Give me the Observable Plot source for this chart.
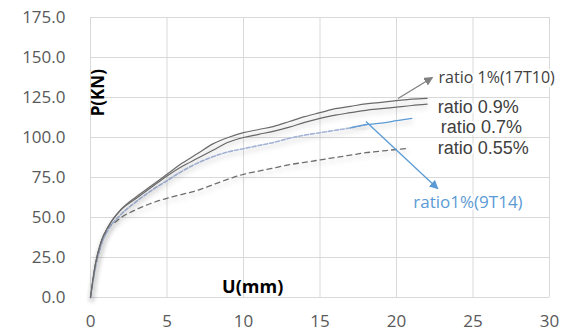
<!DOCTYPE html>
<html>
<head>
<meta charset="utf-8">
<script src="https://cdn.jsdelivr.net/npm/d3@7"></script>
<script src="https://cdn.jsdelivr.net/npm/@observablehq/plot@0.6"></script>
<style>
  html, body { margin: 0; padding: 0; background: #fff; }
  #chart { width: 579px; height: 333px; }
</style>
</head>
<body>
<div id="chart"></div>
<script>
// Tick values
const xTicks = [0, 5, 10, 15, 20, 25, 30];
const yTicks = [0, 25, 50, 75, 100, 125, 150, 175];

// Series: displacement U (mm) and load P (kN)
const u17T10 = [0, 0.3, 0.7, 1.2, 2, 3, 4, 5, 6, 7, 8, 9, 10, 11, 12, 13, 14, 15, 16, 17, 18, 19, 20, 21, 22];
const p17T10 = [0, 20, 35, 45, 55, 63, 70, 77, 84, 90, 96, 100, 103, 105, 107, 110, 113, 115.5, 118, 119.5, 121, 122, 123, 124, 124.5];

const u09 = [0, 0.3, 0.7, 1.2, 2, 3, 4, 5, 6, 7, 8, 9, 10, 11, 12, 13, 14, 15, 16, 17, 18, 19, 20, 21, 22];
const p09 = [0, 20, 35, 45, 55, 62, 69, 76, 82, 87, 92, 97, 100, 102, 104, 106.5, 109.5, 112, 114, 115.5, 117, 118, 119, 120, 120.8];

const u07 = [0, 0.3, 0.7, 1.2, 2, 3, 4, 5, 6, 7, 8, 9, 10, 11, 12, 13, 14, 15, 16, 17, 18];
const p07 = [0, 18, 33, 43, 52, 60, 67, 73, 79, 84, 88, 91, 93, 95, 97, 99.5, 101.5, 103, 104.5, 106, 108];

const u9T14 = [17, 18, 19, 20, 21];
const p9T14 = [106, 108, 109, 110.5, 112];

const u055 = [0, 0.3, 0.7, 1.2, 1.6, 2, 3, 4, 5, 6, 7, 8, 9, 10, 11, 12, 13, 14, 15, 16, 17, 18, 19, 20, 20.6];
const p055 = [0, 18, 33, 44, 47, 50, 55, 59, 62, 64.5, 67, 70.5, 74, 77, 79, 81, 83, 84.5, 86, 87.5, 89, 90.5, 91.5, 92.5, 93];

// Labels
const labelNames = ["ratio 1%(17T10)", "ratio 0.9%", "ratio 0.7%", "ratio 0.55%", "ratio1%(9T14)"];

const toRows = (us, ps) => us.map((u, i) => ({u, p: ps[i]}));

const labels = [
  {u: 22.75, p: 137, text: labelNames[0], size: 16, fill: "#404040", font: "'Open Sans', sans-serif"},
  {u: 22.7, p: 118.8, text: labelNames[1], size: 18, fill: "#404040", font: "'Liberation Sans', sans-serif"},
  {u: 22.9, p: 106.2, text: labelNames[2], size: 18, fill: "#404040", font: "'Liberation Sans', sans-serif"},
  {u: 22.7, p: 93.5, text: labelNames[3], size: 18, fill: "#404040", font: "'Liberation Sans', sans-serif"},
  {u: 21.1, p: 59.5, text: labelNames[4], size: 17, fill: "#5b9bd5", font: "'Open Sans', sans-serif"}
];
const arrows = [
  {u1: 20.1, p1: 124.4, u2: 22.35, p2: 137.5, color: "#808080"},
  {u1: 18.0, p1: 110, u2: 22.7, p2: 68, color: "#5b9bd5"}
];

const font = "'Open Sans', sans-serif";

const chart = Plot.plot({
  width: 579,
  height: 333,
  marginLeft: 90,
  marginRight: 30,
  marginTop: 17,
  marginBottom: 36,
  style: {fontFamily: font, background: "#fff", overflow: "visible"},
  x: {domain: [0, 30], ticks: xTicks, tickSize: 0, label: null},
  y: {domain: [0, 175], ticks: yTicks, tickSize: 0, label: null},
  marks: [
    Plot.gridX(xTicks, {stroke: "#d9d9d9", strokeOpacity: 1, strokeWidth: 1}),
    Plot.gridY(yTicks, {stroke: "#d9d9d9", strokeOpacity: 1, strokeWidth: 1}),
    Plot.axisX({ticks: xTicks, tickSize: 0, tickPadding: 17, fill: "#595959", fontSize: 17, label: null}),
    Plot.axisY({ticks: yTicks, tickSize: 0, tickPadding: 25, fill: "#595959", fontSize: 17, label: null, tickFormat: d => d.toFixed(1)}),
    Plot.line(toRows(u055, p055), {x: "u", y: "p", stroke: "#6e6e6e", strokeWidth: 1.3, strokeDasharray: "5,4", curve: "monotone-x"}),
    Plot.line(toRows(u07, p07), {x: "u", y: "p", stroke: "#a3b3d6", strokeWidth: 1.6, strokeDasharray: "4,2", curve: "monotone-x"}),
    Plot.line(toRows(u9T14, p9T14), {x: "u", y: "p", stroke: "#5b9bd5", strokeWidth: 1.3, curve: "monotone-x"}),
    Plot.line(toRows(u09, p09), {x: "u", y: "p", stroke: "#6b6b6b", strokeWidth: 1.2, curve: "monotone-x"}),
    Plot.line(toRows(u17T10, p17T10), {x: "u", y: "p", stroke: "#6b6b6b", strokeWidth: 1.2, curve: "monotone-x"}),
    Plot.link(arrows, {x1: "u1", y1: "p1", x2: "u2", y2: "p2", stroke: "color", strokeWidth: 1.3}),
    ...labels.map(l => Plot.text([l], {x: "u", y: "p", text: "text", fontSize: l.size, fontFamily: l.font, fill: l.fill, textAnchor: "start", stroke: "white", strokeWidth: 4, paintOrder: "stroke"})),
    Plot.text(["P(KN)"], {x: [0.55], y: [128], rotate: -90, fontSize: 17, fontWeight: "bold", fill: "#000"}),
    Plot.text(["U(mm)"], {x: [10.6], y: [6.3], fontSize: 18, fontWeight: "bold", fill: "#000"})
  ]
});

const svg = d3.select(chart);
const defs = svg.insert("defs", ":first-child");
const f = defs.append("filter").attr("id", "glow").attr("x", "-20%").attr("y", "-20%").attr("width", "140%").attr("height", "140%");
f.append("feDropShadow").attr("dx", 1).attr("dy", 3).attr("stdDeviation", 2.5).attr("flood-color", "#000").attr("flood-opacity", 0.22);
svg.selectAll("g[aria-label='line'] path").attr("filter", "url(#glow)");

const colors = arrows.map(a => a.color);
colors.forEach((c, i) => {
  defs.append("marker").attr("id", "head" + i)
    .attr("viewBox", "0 0 10 10").attr("refX", 9).attr("refY", 5)
    .attr("markerWidth", 9).attr("markerHeight", 9).attr("markerUnits", "userSpaceOnUse")
    .attr("orient", "auto")
    .append("path").attr("d", "M0,0L10,5L0,10Z").attr("fill", c);
});
svg.selectAll("g[aria-label='link'] path").each(function(d, i) {
  d3.select(this).attr("marker-end", "url(#head" + i + ")");
});

document.getElementById("chart").appendChild(chart);
</script>
</body>
</html>
